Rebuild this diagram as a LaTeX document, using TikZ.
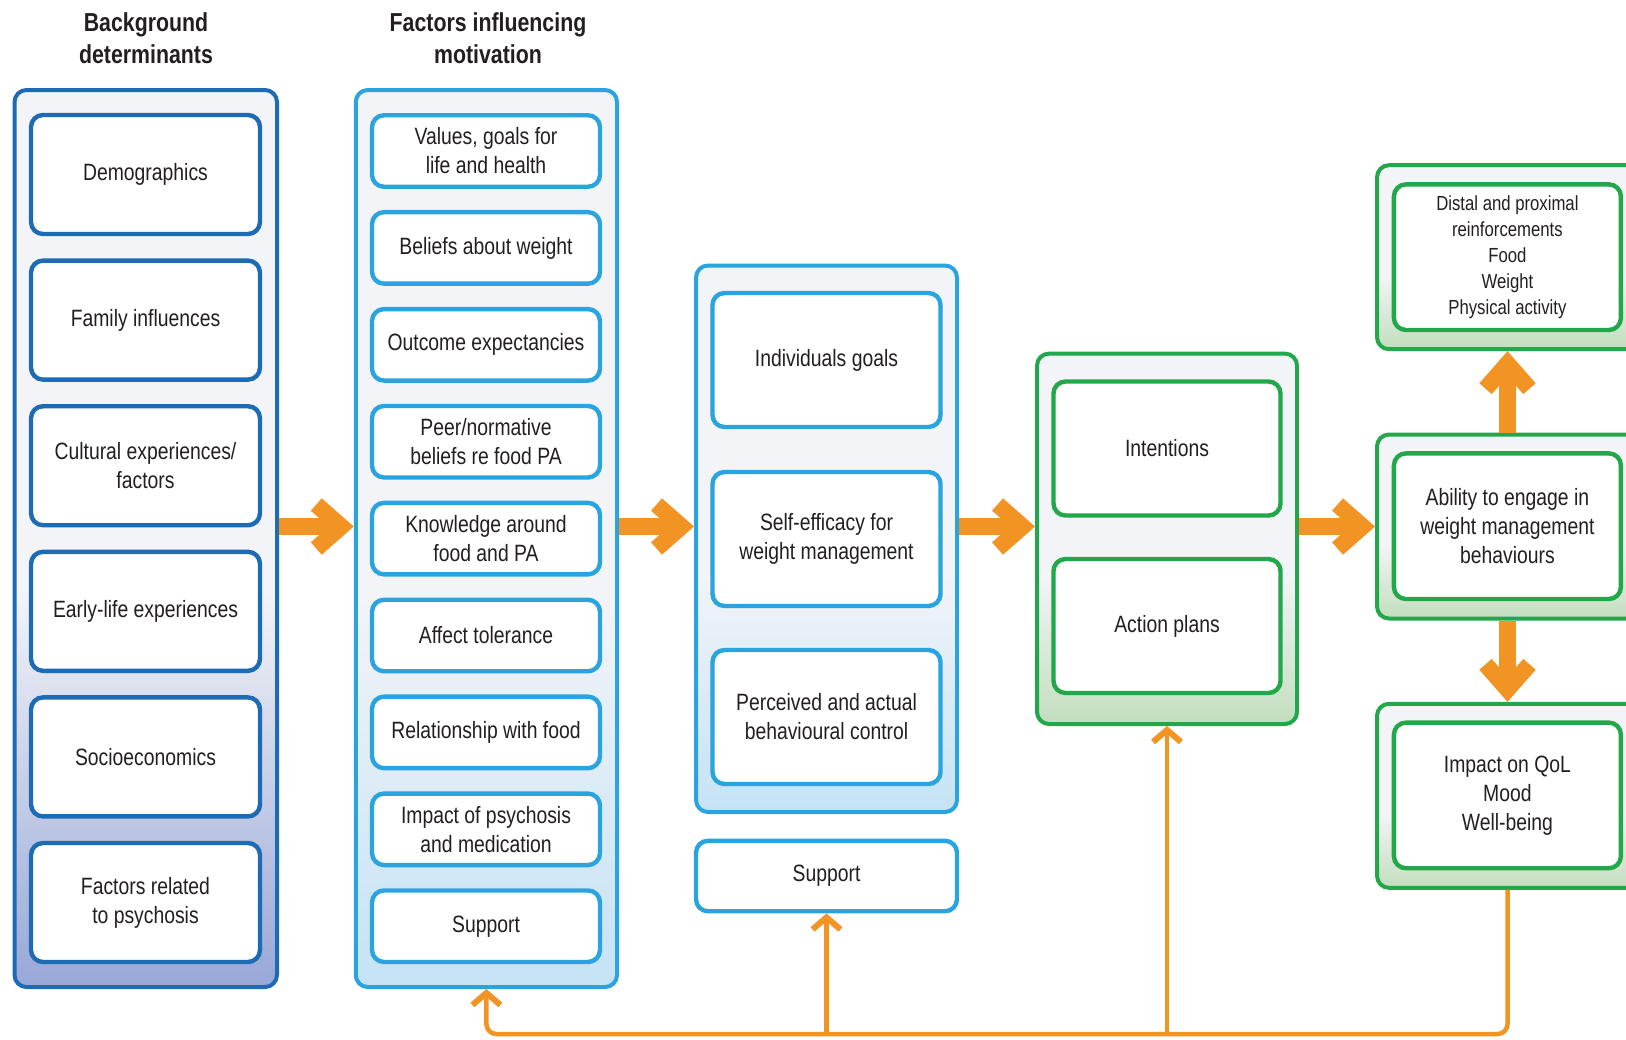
\documentclass[tikz,border=0pt]{standalone}
\usepackage{fontspec}
\setmainfont{Liberation Sans}[FakeStretch=0.82]
\usetikzlibrary{arrows.meta}

\definecolor{dkblue}{HTML}{1C6BB4}
\definecolor{ltblue}{HTML}{29A4DF}
\definecolor{grn}{HTML}{22A84B}
\definecolor{orng}{HTML}{F29423}
\definecolor{paleg}{HTML}{F3F4F7}
\definecolor{periw}{HTML}{97A7D7}
\definecolor{skyfill}{HTML}{C4E3F5}
\definecolor{mint}{HTML}{C2DEBD}
\definecolor{ink}{HTML}{231F20}

\pgfdeclareverticalshading{darkfade}{100bp}{color(0bp)=(periw); color(25bp)=(periw); color(47bp)=(paleg); color(100bp)=(paleg)}
\pgfdeclareverticalshading{skyfade}{100bp}{color(0bp)=(skyfill); color(25bp)=(skyfill); color(47bp)=(paleg); color(100bp)=(paleg)}
\pgfdeclareverticalshading{mintfade}{100bp}{color(0bp)=(mint); color(25bp)=(mint); color(45bp)=(paleg); color(100bp)=(paleg)}

\tikzset{
  bodytext/.style={align=center, text=ink, inner sep=0pt, font=\fontsize{11.8}{14.5}\selectfont},
  headtext/.style={align=center, text=ink, font=\fontsize{13}{16}\selectfont\bfseries},
  darkcol/.style={draw=dkblue, line width=2pt, rounded corners=6pt, shade, shading=darkfade},
  lightcol/.style={draw=ltblue, line width=2pt, rounded corners=6pt, shade, shading=skyfade},
  greencol/.style={draw=grn, line width=2pt, rounded corners=6pt, shade, shading=mintfade},
  darkbox/.style={bodytext, draw=dkblue, fill=white, line width=2.2pt, rounded corners=6pt, minimum width=114.5pt, minimum height=59.5pt},
  lightbox/.style={bodytext, draw=ltblue, fill=white, line width=2.2pt, rounded corners=6pt, minimum width=114pt, minimum height=35.75pt},
  greenbox/.style={bodytext, draw=grn, fill=white, line width=2.2pt, rounded corners=6pt, minimum width=113.5pt, minimum height=67pt},
  bigarrow/.style={draw=orng, line width=8.25pt, -{Straight Barb[length=12.5pt, width=22pt, line cap=butt, line join=miter]}},
  thinline/.style={draw=orng, line width=2.25pt},
  thinarrow/.style={thinline, -{Straight Barb[length=6pt, width=14pt, line width=3pt, line cap=butt, line join=miter]}}
}

\begin{document}
\begin{tikzpicture}[x=0.5pt, y=-0.5pt]
  \useasboundingbox (0,0) rectangle (1626,1039);

  \node[headtext] (bgdhead) at (146, 38) {Background\\determinants};
  \node[headtext] (fimhead) at (488, 38) {Factors influencing\\motivation};

  \node[darkcol, minimum width=131.25pt, minimum height=448.5pt] (bgd) at (145.75, 538.5) {};
  \node[darkbox] (demo)    at (145.5, 174.5) {Demographics};
  \node[darkbox] (family)  at (145.5, 320.1) {Family influences};
  \node[darkbox] (culture) at (145.5, 465.7) {Cultural experiences/\\factors};
  \node[darkbox] (early)   at (145.5, 611.3) {Early-life experiences};
  \node[darkbox] (socio)   at (145.5, 756.9) {Socioeconomics};
  \node[darkbox] (psych)   at (145.5, 902.5) {Factors related\\to psychosis};

  \node[lightcol, minimum width=130.65pt, minimum height=448.5pt] (fim) at (486.4, 538.5) {};
  \node[lightbox] (values)   at (486, 151)   {Values, goals for\\life and health};
  \node[lightbox] (beliefs)  at (486, 247.9) {Beliefs about weight};
  \node[lightbox] (outcome)  at (486, 344.8) {Outcome expectancies};
  \node[lightbox] (peer)     at (486, 441.7) {Peer/normative\\beliefs re food PA};
  \node[lightbox] (know)     at (486, 538.6) {Knowledge around\\food and PA};
  \node[lightbox] (affect)   at (486, 635.5) {Affect tolerance};
  \node[lightbox] (relation) at (486, 732.4) {Relationship with food};
  \node[lightbox] (impact)   at (486, 829.3) {Impact of psychosis\\and medication};
  \node[lightbox] (supA)     at (486, 926.2) {Support};

  \node[lightcol, minimum width=130.5pt, minimum height=273.25pt] (sef) at (826.5, 538.75) {};
  \node[lightbox, minimum height=67pt] (goals)    at (826.5, 360) {Individuals goals};
  \node[lightbox, minimum height=67pt] (efficacy) at (826.5, 539) {Self-efficacy for\\weight management};
  \node[lightbox, minimum height=67pt] (control)  at (826.5, 717) {Perceived and actual\\behavioural control};
  \node[lightbox, minimum width=130.5pt, minimum height=35.25pt] (supB) at (826.5, 876) {Support};

  \node[greencol, minimum width=130pt, minimum height=185.2pt] (act) at (1167, 538.8) {};
  \node[greenbox] (intent) at (1167, 448.5) {Intentions};
  \node[greenbox] (plans)  at (1167, 626)   {Action plans};

  \node[greencol, minimum width=130.5pt, minimum height=92pt] (topg) at (1507.5, 257.2) {};
  \node[greenbox, minimum height=72.8pt, font=\fontsize{10.2}{13}\selectfont] (reinf) at (1507.4, 257.2) {Distal and proximal\\reinforcements\\Food\\Weight\\Physical activity};
  \node[greencol, minimum width=130.5pt, minimum height=92pt] (midg) at (1507.5, 526.5) {};
  \node[greenbox, minimum height=72.8pt] (ability) at (1507.4, 526.2) {Ability to engage in\\weight management\\behaviours};
  \node[greencol, minimum width=130.5pt, minimum height=92pt] (botg) at (1507.5, 795.8) {};
  \node[greenbox, minimum height=72.8pt] (qol) at (1507.4, 795.4) {Impact on QoL\\Mood\\Well-being};

  \draw[bigarrow] (bgd.east |- midg) -- (fim.west |- midg);
  \draw[bigarrow] (fim.east |- midg) -- (sef.west |- midg);
  \draw[bigarrow] (sef.east |- midg) -- (act.west |- midg);
  \draw[bigarrow] (act.east |- midg) -- (midg.west);
  \draw[bigarrow] (midg.north) -- (topg.south);
  \draw[bigarrow] (midg.south) -- (botg.north);

  \coordinate (base) at (0, 1034);
  \draw[thinarrow, rounded corners=5pt] (botg.south) |- (base -| fim.south) -- (fim.south);
  \draw[thinarrow] (base -| supB.south) -- (supB.south);
  \draw[thinarrow] (base -| act.south) -- (act.south);
\end{tikzpicture}
\end{document}
